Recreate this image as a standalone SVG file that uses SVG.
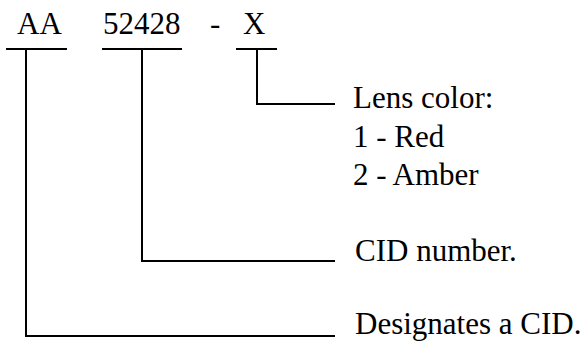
<svg xmlns="http://www.w3.org/2000/svg" width="586" height="341" viewBox="0 0 586 341">
<style>
text{font-family:"Liberation Serif","Times New Roman",serif;font-size:31px;fill:#000}
.c{fill:none;stroke:#000;stroke-width:2;stroke-linecap:square;stroke-linejoin:miter}
</style>
<rect width="586" height="341" fill="#fff"/>
<g id="code">
<text x="17" y="34">AA</text>
<text x="103" y="34">52428</text>
<text x="210" y="34">-</text>
<text x="243" y="34">X</text>
</g>
<g id="connectors">
<path class="c" d="M7 49H66M103 49H181M237 49H276"/>
<path class="c" d="M26 49V336H334"/>
<path class="c" d="M142 49V261H334"/>
<path class="c" d="M257 49V104H334"/>
</g>
<g id="lens">
<text x="353" y="108">Lens color:</text>
<text x="353" y="147">1 - Red</text>
<text x="353" y="185">2 - Amber</text>
</g>
<g id="cid-number">
<text x="355" y="261">CID number.</text>
</g>
<g id="designates">
<text x="355" y="334">Designates a CID.</text>
</g>
</svg>
